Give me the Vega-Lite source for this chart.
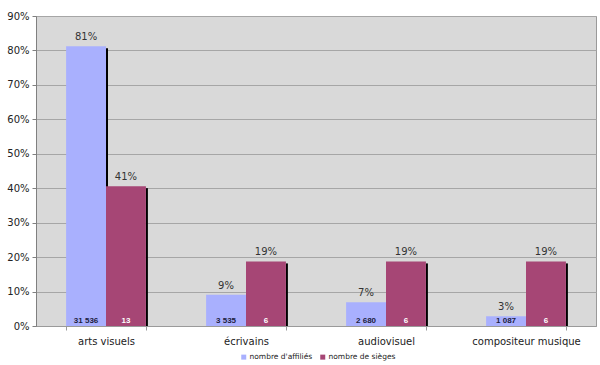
{
  "$schema": "https://vega.github.io/schema/vega-lite/v6.json",
  "width": 560,
  "height": 310,
  "autosize": {"type": "none"},
  "padding": {"left": 36, "top": 16, "right": 4, "bottom": 39},
  "background": "white",
  "config": {
    "font": "DejaVu Sans",
    "view": {"fill": "#d9d9d9", "stroke": "#9a9a9a", "strokeWidth": 1}
  },
  "data": {
    "values": [
      {"cat": "arts visuels", "series": "nombre d'affiliés", "pct": 0.812, "pctLabel": "81%", "count": "31 536"},
      {"cat": "arts visuels", "series": "nombre de sièges", "pct": 0.406, "pctLabel": "41%", "count": "13"},
      {"cat": "écrivains", "series": "nombre d'affiliés", "pct": 0.091, "pctLabel": "9%", "count": "3 535"},
      {"cat": "écrivains", "series": "nombre de sièges", "pct": 0.1875, "pctLabel": "19%", "count": "6"},
      {"cat": "audiovisuel", "series": "nombre d'affiliés", "pct": 0.069, "pctLabel": "7%", "count": "2 680"},
      {"cat": "audiovisuel", "series": "nombre de sièges", "pct": 0.1875, "pctLabel": "19%", "count": "6"},
      {"cat": "compositeur musique", "series": "nombre d'affiliés", "pct": 0.028, "pctLabel": "3%", "count": "1 087"},
      {"cat": "compositeur musique", "series": "nombre de sièges", "pct": 0.1875, "pctLabel": "19%", "count": "6"}
    ]
  },
  "encoding": {
    "x": {
      "field": "cat",
      "type": "nominal",
      "sort": ["arts visuels", "écrivains", "audiovisuel", "compositeur musique"],
      "scale": {"paddingInner": 0.43, "paddingOuter": 0.215},
      "axis": {
        "title": null,
        "labelAngle": 0,
        "labelFontSize": 10,
        "labelColor": "#222",
        "labelPadding": 6,
        "tickBand": "extent",
        "tickColor": "#9a9a9a",
        "tickSize": 4,
        "domainColor": "#9a9a9a",
        "grid": false
      }
    },
    "xOffset": {
      "field": "series",
      "sort": ["nombre d'affiliés", "nombre de sièges"],
      "scale": {"paddingInner": 0, "paddingOuter": 0}
    },
    "y": {
      "field": "pct",
      "type": "quantitative",
      "scale": {"domain": [0, 0.9], "nice": false},
      "axis": {
        "title": null,
        "format": ".0%",
        "values": [0, 0.1, 0.2, 0.3, 0.4, 0.5, 0.6, 0.7, 0.8, 0.9],
        "labelOverlap": false,
        "labelFontSize": 10,
        "labelColor": "#222",
        "gridColor": "#a6a6a6",
        "gridOpacity": 1,
        "domainColor": "#808080",
        "tickColor": "#808080",
        "tickSize": 4,
        "labelPadding": 3
      }
    }
  },
  "layer": [
    {
      "transform": [{"filter": "datum.series === \"nombre d'affiliés\""}],
      "mark": {"type": "rule", "color": "#000", "strokeWidth": 2, "xOffset": 1, "yOffset": 2},
      "encoding": {
        "xOffset": null,
        "x": {
          "field": "cat",
          "type": "nominal",
          "bandPosition": 0.5,
          "sort": ["arts visuels", "écrivains", "audiovisuel", "compositeur musique"]
        },
        "y2": {"datum": 0}
      }
    },
    {
      "transform": [{"filter": "datum.series === 'nombre de sièges'"}],
      "mark": {"type": "rule", "color": "#000", "strokeWidth": 2, "xOffset": 1, "yOffset": 2},
      "encoding": {
        "xOffset": null,
        "x": {
          "field": "cat",
          "type": "nominal",
          "bandPosition": 1,
          "sort": ["arts visuels", "écrivains", "audiovisuel", "compositeur musique"]
        },
        "y2": {"datum": 0}
      }
    },
    {
      "mark": {"type": "bar"},
      "encoding": {
        "color": {
          "field": "series",
          "type": "nominal",
          "scale": {
            "domain": ["nombre d'affiliés", "nombre de sièges"],
            "range": ["#a9b0fe", "#a64675"]
          },
          "legend": {
            "title": null,
            "orient": "none",
            "legendX": 204,
            "legendY": 337,
            "direction": "horizontal",
            "symbolType": "square",
            "symbolSize": 25,
            "symbolStrokeWidth": 0,
            "labelFontSize": 7.5,
            "labelColor": "#222",
            "columnPadding": 6,
            "labelOffset": 2
          }
        }
      }
    },
    {
      "mark": {"type": "text", "baseline": "bottom", "dy": -4, "fontSize": 10, "color": "#333"},
      "encoding": {
        "text": {"field": "pctLabel"}
      }
    },
    {
      "mark": {"type": "text", "baseline": "bottom", "dy": -1, "fontSize": 8, "fontWeight": "bold", "font": "Liberation Sans"},
      "encoding": {
        "y": {"datum": 0},
        "text": {"field": "count"},
        "color": {
          "field": "series",
          "type": "nominal",
          "scale": {"domain": ["nombre d'affiliés", "nombre de sièges"], "range": ["#1c1c40", "#ffffff"]},
          "legend": null
        }
      }
    }
  ],
  "resolve": {"scale": {"color": "independent"}}
}
